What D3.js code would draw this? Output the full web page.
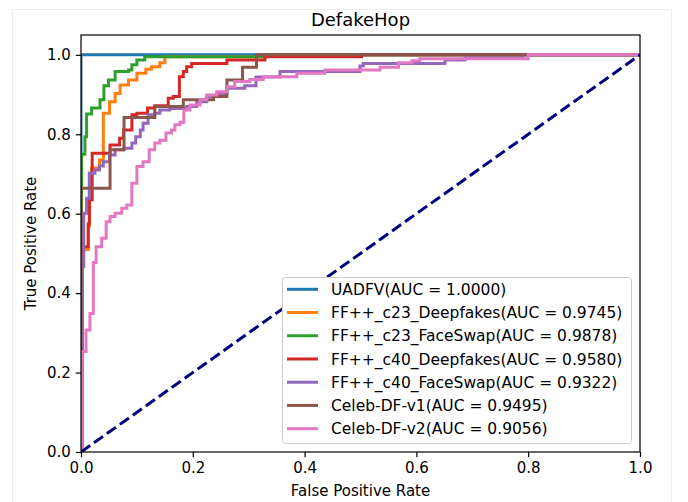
<!DOCTYPE html>
<html>
<head>
<meta charset="utf-8">
<script src="https://cdn.jsdelivr.net/npm/d3@7"></script>
<style>
  body { margin: 0; background: #fff; }
  text { font-family: "DejaVu Sans", sans-serif; fill: #000; }
</style>
</head>
<body>
<svg id="chart" width="688" height="502"></svg>
<script>
var margin = {top: 35, right: 48, bottom: 50, left: 81},
    width = 640 - margin.left,
    height = 452 - margin.top;

// curve names, as in the legend
var names = [
  "UADFV(AUC = 1.0000)",
  "FF++_c23_Deepfakes(AUC = 0.9745)",
  "FF++_c23_FaceSwap(AUC = 0.9878)",
  "FF++_c40_Deepfakes(AUC = 0.9580)",
  "FF++_c40_FaceSwap(AUC = 0.9322)",
  "Celeb-DF-v1(AUC = 0.9495)",
  "Celeb-DF-v2(AUC = 0.9056)"
];
var colors = ["#1f77b4", "#ff7f0e", "#2ca02c", "#d62728", "#9467bd", "#8c564b", "#e377c2"];

// ROC corner points: at each fpr the tpr jumps up to the given value
var uadfvFpr = [0, 0, 1];
var uadfvTpr = [0, 1, 1];

var c23DfFpr = [0, 0.002, 0.013, 0.015, 0.019, 0.033, 0.040, 0.051, 0.061, 0.070, 0.085, 0.100, 0.116, 0.126, 0.141, 0.150, 0.33, 1];
var c23DfTpr = [0, 0.51, 0.568, 0.702, 0.715, 0.735, 0.853, 0.882, 0.903, 0.924, 0.937, 0.954, 0.964, 0.970, 0.980, 0.995, 1, 1];

var c23FsFpr = [0, 0.001, 0.007, 0.010, 0.019, 0.034, 0.041, 0.049, 0.061, 0.085, 0.091, 0.100, 0.114, 0.33, 1];
var c23FsTpr = [0, 0.75, 0.794, 0.851, 0.866, 0.887, 0.922, 0.937, 0.958, 0.962, 0.975, 0.987, 0.995, 1, 1];

var c40DfFpr = [0, 0.002, 0.013, 0.015, 0.020, 0.052, 0.069, 0.076, 0.091, 0.100, 0.119, 0.132, 0.156, 0.165, 0.176, 0.183, 0.189, 0.198, 0.261, 0.329, 0.502, 1];
var c40DfTpr = [0, 0.517, 0.575, 0.635, 0.752, 0.773, 0.790, 0.811, 0.849, 0.853, 0.866, 0.872, 0.891, 0.895, 0.945, 0.958, 0.970, 0.978, 0.987, 0.995, 1, 1];

var c40FsFpr = [0, 0.002, 0.005, 0.010, 0.015, 0.025, 0.033, 0.040, 0.051, 0.061, 0.076, 0.091, 0.098, 0.106, 0.111, 0.120, 0.132, 0.141, 0.159, 0.189, 0.207, 0.225, 0.243, 0.261, 0.293, 0.313, 0.356, 0.499, 0.505, 0.651, 0.687, 0.790, 1];
var c40FsTpr = [0, 0.467, 0.601, 0.639, 0.702, 0.710, 0.720, 0.731, 0.748, 0.761, 0.765, 0.778, 0.794, 0.811, 0.828, 0.849, 0.853, 0.861, 0.865, 0.870, 0.882, 0.895, 0.903, 0.916, 0.922, 0.944, 0.958, 0.972, 0.978, 0.987, 0.993, 1, 1];

var cdfV1Fpr = [0, 0, 0.052, 0.077, 0.132, 0.183, 0.237, 0.261, 0.289, 0.314, 1];
var cdfV1Tpr = [0, 0.664, 0.761, 0.842, 0.870, 0.887, 0.895, 0.937, 0.969, 1, 1];

var cdfV2Fpr = [0, 0.002, 0.009, 0.016, 0.022, 0.027, 0.037, 0.045, 0.052, 0.061, 0.073, 0.082, 0.091, 0.100, 0.111, 0.122, 0.132, 0.141, 0.152, 0.162, 0.168, 0.177, 0.184, 0.195, 0.213, 0.225, 0.243, 0.261, 0.275, 0.302, 0.326, 0.386, 0.436, 0.535, 0.568, 0.592, 0.606, 0.80, 1];
var cdfV2Tpr = [0, 0.253, 0.307, 0.349, 0.477, 0.517, 0.538, 0.580, 0.593, 0.601, 0.614, 0.622, 0.677, 0.719, 0.731, 0.761, 0.778, 0.785, 0.803, 0.811, 0.824, 0.830, 0.861, 0.874, 0.887, 0.899, 0.907, 0.920, 0.933, 0.938, 0.945, 0.954, 0.962, 0.969, 0.980, 0.985, 0.990, 1, 1];

var fprs = [uadfvFpr, c23DfFpr, c23FsFpr, c40DfFpr, c40FsFpr, cdfV1Fpr, cdfV2Fpr];
var tprs = [uadfvTpr, c23DfTpr, c23FsTpr, c40DfTpr, c40FsTpr, cdfV1Tpr, cdfV2Tpr];

var tickValues = [0, 0.2, 0.4, 0.6, 0.8, 1.0];
var chanceLine = [[0, 0], [1, 1]];

var svg = d3.select("#chart");

// faint figure border
svg.append("rect")
  .attr("x", 12.5).attr("y", 9.5)
  .attr("width", 659).attr("height", 560)
  .attr("fill", "none")
  .attr("stroke", "#eeeeee");

var g = svg.append("g")
  .attr("transform", "translate(" + margin.left + "," + margin.top + ")");

var x = d3.scaleLinear().domain([0, 1]).range([0, width]);
var y = d3.scaleLinear().domain([0, 1.05]).range([height, 0]);

var line = d3.line()
  .x(function(d) { return x(d[0]); })
  .y(function(d) { return y(d[1]); })
  .curve(d3.curveStepAfter);

var series = names.map(function(n, i) {
  return {name: n, color: colors[i], pts: d3.zip(fprs[i], tprs[i])};
});

g.append("clipPath").attr("id", "clip")
  .append("rect").attr("width", width).attr("height", height);

var plot = g.append("g").attr("clip-path", "url(#clip)");

plot.selectAll(".roc")
  .data(series)
  .enter().append("path")
  .attr("class", "roc")
  .attr("d", function(d) { return line(d.pts); })
  .attr("fill", "none")
  .attr("stroke", function(d) { return d.color; })
  .attr("stroke-width", 3)
  .attr("stroke-linejoin", "miter")
  .attr("stroke-linecap", "square");

plot.append("path")
  .attr("d", d3.line().x(function(d) { return x(d[0]); }).y(function(d) { return y(d[1]); })(chanceLine))
  .attr("fill", "none")
  .attr("stroke", "#000080")
  .attr("stroke-width", 3)
  .attr("stroke-dasharray", "11.1,4.8");

// axes
var xAxis = g.append("g")
  .attr("transform", "translate(0," + height + ")")
  .call(d3.axisBottom(x).tickValues(tickValues).tickFormat(d3.format(".1f")).tickSize(5.25).tickPadding(5));
var yAxis = g.append("g")
  .call(d3.axisLeft(y).tickValues(tickValues).tickFormat(d3.format(".1f")).tickSize(5.25).tickPadding(5));

[xAxis, yAxis].forEach(function(a) {
  a.select(".domain").remove();
  a.selectAll(".tick line").attr("stroke", "#000").attr("stroke-width", 1.2);
  a.selectAll(".tick text").attr("font-size", 15).attr("font-family", "DejaVu Sans").attr("fill", "#000");
});

g.append("rect")
  .attr("width", width).attr("height", height)
  .attr("fill", "none")
  .attr("stroke", "#000")
  .attr("stroke-width", 1.2);

// labels
svg.append("text")
  .attr("x", margin.left + width / 2).attr("y", 26)
  .attr("text-anchor", "middle")
  .attr("font-size", 18)
  .text("DefakeHop");

svg.append("text")
  .attr("x", margin.left + width / 2).attr("y", 496)
  .attr("text-anchor", "middle")
  .attr("font-size", 15)
  .text("False Positive Rate");

svg.append("text")
  .attr("transform", "translate(36," + (margin.top + height / 2) + ") rotate(-90)")
  .attr("text-anchor", "middle")
  .attr("font-size", 15)
  .text("True Positive Rate");

// legend
var legend = svg.append("g").attr("transform", "translate(282,277)");
legend.append("rect")
  .attr("x", 0.5).attr("y", 0.5)
  .attr("width", 349).attr("height", 166)
  .attr("rx", 3)
  .attr("fill", "#fff")
  .attr("stroke", "#cccccc");

var item = legend.selectAll(".item")
  .data(series)
  .enter().append("g")
  .attr("class", "item")
  .attr("transform", function(d, i) { return "translate(0," + (12.3 + i * 23.23) + ")"; });

item.append("line")
  .attr("x1", 5).attr("x2", 36)
  .attr("stroke", function(d) { return d.color; })
  .attr("stroke-width", 3);

item.append("text")
  .attr("x", 49).attr("dy", "0.36em")
  .attr("font-size", 15.5)
  .text(function(d) { return d.name; });
</script>
</body>
</html>
